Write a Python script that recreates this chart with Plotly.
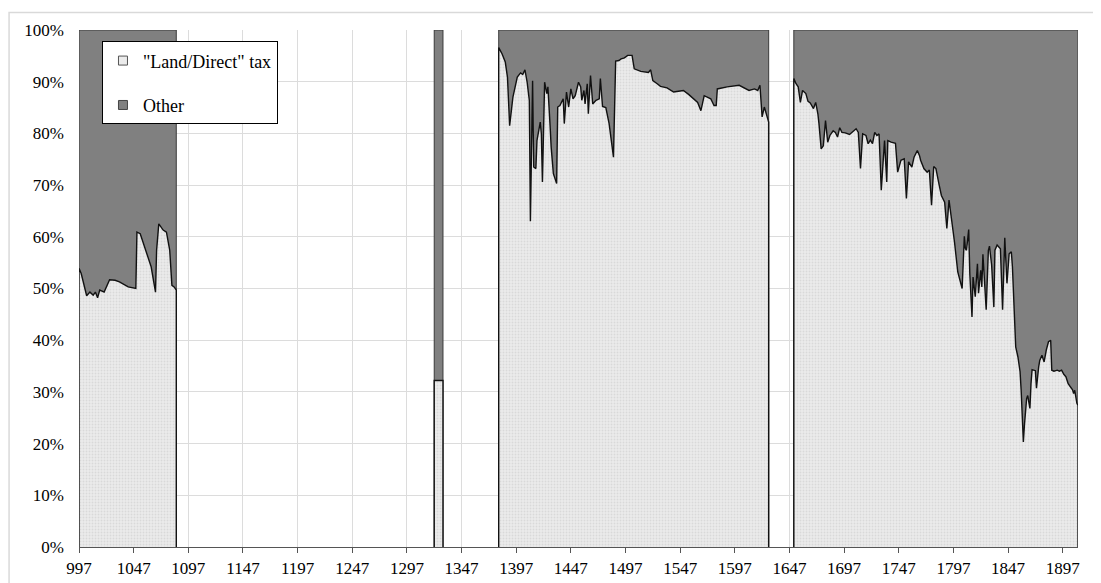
import plotly.graph_objects as go

# ---- data (share of "Land/Direct" tax in total revenue, %) ----
block1_years = [997, 999, 1001, 1004, 1007, 1010, 1012, 1014, 1016, 1020, 1025, 1030, 1034, 1039, 1042,
                1049, 1050, 1053, 1056, 1060, 1063, 1067, 1068, 1070, 1072, 1074, 1077, 1080, 1082, 1084, 1086]
block1_land = [53.9, 52.9, 51.3, 48.6, 49.3, 48.7, 49.3, 48.2, 49.7, 49.3, 51.7, 51.6, 51.3, 50.6, 50.3,
               50.0, 60.9, 60.6, 58.7, 56.2, 54.2, 49.3, 57.4, 62.5, 61.8, 61.3, 60.9, 57.4, 50.6, 50.3, 49.7]

block2_years = [1322, 1326, 1330]
block2_land = [32.2, 32.2, 32.2]

block3_years = [1381, 1384, 1387, 1389, 1391, 1394, 1398, 1401, 1403, 1405, 1407, 1409, 1410, 1412, 1413,
                1415, 1416, 1419, 1420, 1421, 1423, 1425, 1426, 1428, 1429, 1431, 1434, 1435, 1437, 1440,
                1441, 1443, 1445, 1447, 1449, 1451, 1454, 1456, 1457, 1459, 1460, 1462, 1463, 1465, 1467,
                1470, 1473, 1474, 1476, 1479, 1482, 1486, 1488, 1491, 1493, 1496, 1499, 1503, 1505, 1511,
                1518, 1520, 1522, 1526, 1529, 1535, 1541, 1550, 1555, 1563, 1566, 1569, 1572, 1575, 1578,
                1580, 1581, 1590, 1601, 1605, 1610, 1615, 1618, 1620, 1622, 1624, 1626, 1628]
block3_land = [96.6, 95.4, 93.8, 90.9, 81.5, 87.0, 90.9, 91.7, 91.4, 92.3, 89.9, 86.4, 63.0, 90.2, 73.5,
               73.2, 78.6, 82.2, 79.9, 70.6, 89.9, 87.7, 89.0, 81.5, 77.3, 72.2, 70.3, 85.1, 85.4, 86.7,
               81.9, 88.0, 85.1, 88.6, 86.7, 87.3, 89.9, 89.0, 86.4, 88.3, 85.7, 89.6, 83.8, 91.2, 85.7,
               86.4, 86.7, 90.6, 85.2, 85.0, 81.9, 75.4, 94.0, 94.1, 94.4, 94.6, 95.1, 95.1, 92.5, 92.0,
               91.8, 92.3, 90.2, 89.6, 89.1, 88.8, 88.0, 88.3, 87.5, 86.0, 84.4, 87.3, 87.0, 86.7, 85.4,
               85.4, 88.6, 89.0, 89.3, 88.8, 88.3, 88.6, 88.3, 89.3, 83.2, 85.1, 83.5, 82.2]

block4_years = [1651, 1653, 1655, 1657, 1659, 1662, 1664, 1666, 1669, 1671, 1673, 1674, 1676, 1678, 1680,
                1682, 1684, 1687, 1689, 1691, 1693, 1695, 1698, 1702, 1705, 1708, 1710, 1712, 1714, 1717,
                1719, 1721, 1723, 1725, 1727, 1729, 1731, 1733, 1734, 1736, 1737, 1740, 1744, 1746, 1749,
                1752, 1754, 1756, 1759, 1761, 1764, 1766, 1767, 1770, 1773, 1775, 1777, 1779, 1781, 1784,
                1786, 1789, 1791, 1793, 1795, 1797, 1798, 1801, 1803, 1805, 1807, 1808, 1809, 1811, 1812,
                1814, 1815, 1817, 1819, 1820, 1822, 1823, 1824, 1825, 1827, 1829, 1830, 1832, 1834, 1835,
                1837, 1840, 1842, 1844, 1846, 1848, 1850, 1851, 1853, 1854, 1856, 1858, 1859, 1860, 1861,
                1862, 1864, 1865, 1867, 1868, 1869, 1872, 1873, 1875, 1876, 1878, 1880, 1882, 1884, 1886,
                1887, 1889, 1892, 1894, 1896, 1898, 1900, 1902, 1904, 1906, 1907, 1908, 1910, 1911]
block4_land = [90.6, 89.6, 89.0, 86.0, 88.3, 87.7, 86.2, 85.9, 84.8, 86.0, 83.8, 81.9, 77.0, 77.6, 82.5,
               78.3, 79.6, 80.5, 80.2, 79.3, 81.1, 80.2, 80.1, 79.8, 80.4, 80.9, 80.2, 73.2, 79.9, 79.6,
               78.0, 78.7, 78.0, 80.2, 79.6, 79.9, 69.0, 75.4, 78.6, 70.6, 78.6, 78.3, 78.1, 72.5, 74.8,
               75.1, 67.4, 74.5, 73.5, 75.4, 76.7, 75.7, 74.8, 73.2, 72.5, 72.9, 66.1, 73.6, 73.2, 70.0,
               68.0, 66.7, 61.6, 67.1, 64.2, 60.9, 59.0, 53.2, 51.3, 50.0, 60.1, 57.7, 57.4, 61.4, 52.9,
               44.5, 52.2, 48.4, 54.8, 49.1, 53.5, 50.3, 56.6, 53.5, 45.9, 57.4, 58.2, 54.5, 46.4, 57.4,
               58.4, 57.7, 45.9, 59.8, 51.0, 56.7, 57.1, 54.2, 44.5, 38.7, 36.8, 33.9, 30.3, 23.9, 20.3,
               23.6, 28.7, 29.3, 26.8, 31.6, 34.3, 34.1, 30.7, 34.8, 36.1, 37.1, 35.8, 38.1, 39.7, 40.0,
               34.2, 34.0, 34.2, 34.0, 34.2, 33.4, 32.9, 31.6, 30.9, 30.4, 29.7, 30.3, 27.8, 27.4]

blocks = [(block1_years, block1_land), (block2_years, block2_land),
          (block3_years, block3_land), (block4_years, block4_land)]

series_names = ['"Land/Direct" tax', "Other"]
x_ticks = list(range(997, 1898, 50))
y_ticks = list(range(0, 101, 10))

LAND_FILL = "#ebebeb"
OTHER_FILL = "#808080"
FONT = "Times New Roman, Times, Liberation Serif, DejaVu Serif, Noto Serif, serif"

fig = go.Figure()

for years, land in blocks:
    xs = [years[0]] + list(years) + [years[-1]]
    other_top = [0] + [100] * len(years) + [0]
    land_top = [0] + list(land) + [0]
    fig.add_trace(go.Scatter(
        x=xs, y=other_top, mode="lines", fill="tozeroy",
        fillcolor=OTHER_FILL, line=dict(color="#3a3a3a", width=1),
        showlegend=False, hoverinfo="skip"))
    fig.add_trace(go.Scatter(
        x=xs, y=land_top, mode="lines", fill="tozeroy",
        fillcolor=LAND_FILL,
        fillpattern=dict(shape=".", fgcolor="#c8c8c8", bgcolor=LAND_FILL, size=3, solidity=0.3),
        line=dict(color="#111111", width=1.4),
        showlegend=False, hoverinfo="skip"))

# legend entries
legend_colors = [LAND_FILL, OTHER_FILL]
legend_borders = ["#555555", "#444444"]
for name, col, bc in zip(series_names, legend_colors, legend_borders):
    fig.add_trace(go.Scatter(
        x=[None], y=[None], mode="markers", name=name, legendgroup=name,
        marker=dict(symbol="square", size=9, color=col, line=dict(color=bc, width=1))))

fig.update_layout(
    width=1093, height=575,
    margin=dict(l=71, r=23, t=22, b=36, autoexpand=False),
    paper_bgcolor="white", plot_bgcolor="white",
    font=dict(family=FONT, size=17, color="black"),
    showlegend=True,
    legend=dict(x=0.023, y=0.978, xanchor="left", yanchor="top",
                bgcolor="white", bordercolor="black", borderwidth=1,
                font=dict(family=FONT, size=18, color="black"),
                traceorder="grouped", tracegroupgap=18, itemwidth=30),
    shapes=[dict(type="rect", xref="paper", yref="paper",
                 x0=-0.07, x1=1.03, y0=-0.09, y1=1.034,
                 line=dict(color="#d9d9d9", width=1.5), layer="below")],
)

fig.update_xaxes(
    range=[997, 1911], tickmode="array", tickvals=x_ticks,
    ticktext=[str(v) for v in x_ticks], automargin=False,
    showgrid=True, gridcolor="#dcdcdc", gridwidth=1,
    showline=True, linecolor="#555555", linewidth=1,
    ticks="outside", ticklen=5, tickcolor="#555555", ticklabelstandoff=1,
    zeroline=False, tickfont=dict(family=FONT, size=17, color="black"))

fig.update_yaxes(
    range=[0, 100], tickmode="array", tickvals=y_ticks,
    ticktext=[f"{v}%" for v in y_ticks], automargin=False,
    showgrid=True, gridcolor="#dcdcdc", gridwidth=1,
    showline=False, zeroline=False, ticks="", ticklabelstandoff=14,
    tickfont=dict(family=FONT, size=17, color="black"))

fig.write_html("out.html")
